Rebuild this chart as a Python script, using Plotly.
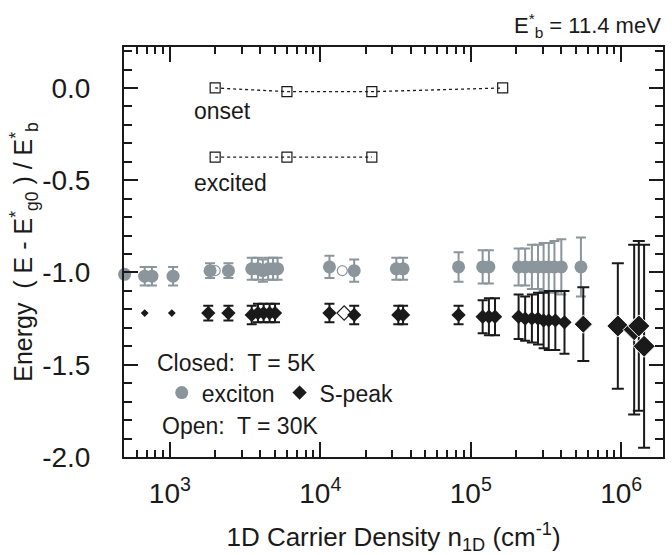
import plotly.graph_objects as go
import numpy as np

FONT = "Liberation Sans, Arial, sans-serif"
GRAY = "#8b959c"
BLACK = "#1a1a1a"

# ---------------- data ----------------
# onset / excited (open squares, dotted)
onset_x = [2000, 6000, 22000, 163000]
onset_y = [0.0, -0.02, -0.02, 0.0]
excited_x = [2000, 6000, 22000]
excited_y = [-0.375, -0.375, -0.375]

# exciton, closed (T = 5K)
exc_x = [500, 680, 760, 1050, 1850, 2450, 3500, 3850, 4150, 4500, 4850, 5200,
         11500, 16800, 32000, 35500, 83000, 1.2e5, 1.32e5, 2.08e5, 2.3e5,
         2.55e5, 2.8e5, 3.05e5, 3.3e5, 3.6e5, 4.0e5, 5.4e5]
exc_y = [-1.01, -1.02, -1.02, -1.02, -0.99, -0.99, -0.98, -0.98, -0.99, -0.98,
         -0.98, -0.98, -0.97, -0.99, -0.98, -0.98, -0.97, -0.97, -0.97, -0.97,
         -0.97, -0.97, -0.97, -0.97, -0.97, -0.97, -0.97, -0.97]
exc_err = [0, .05, .05, .05, .04, .04, .06, .06, .06, .06, .06, .06, .06, .06,
           .06, .06, .08, .09, .09, .10, .10, .12, .12, .13, .13, .14, .15, .16]

# exciton, open (T = 30K)
exc_open_x = [2000, 14000]
exc_open_y = [-0.99, -0.99]

# S-peak, closed (T = 5K)
sp_small_x = [680, 1030]
sp_small_y = [-1.22, -1.22]

sp_x = [1800, 2450, 3500, 3850, 4200, 4600, 5000, 11500, 16800, 33000, 35500,
        83000, 1.2e5, 1.32e5, 1.45e5, 2.08e5, 2.3e5, 2.55e5, 2.8e5, 3.05e5,
        3.3e5, 3.65e5, 4.2e5]
sp_y = [-1.22, -1.22, -1.23, -1.22, -1.22, -1.22, -1.22, -1.22, -1.23, -1.23,
        -1.23, -1.23, -1.24, -1.24, -1.24, -1.24, -1.25, -1.25, -1.25, -1.26,
        -1.26, -1.26, -1.27]
sp_err = [.04, .04, .05, .05, .05, .05, .05, .05, .05, .05, .05, .05, .09, .10,
          .10, .12, .12, .13, .14, .15, .16, .16, .17]

sp_big_x = [5.6e5, 9.5e5, 1.22e6, 1.31e6, 1.42e6]
sp_big_y = [-1.28, -1.29, -1.31, -1.29, -1.40]
sp_big_err = [.20, .34, .46, .46, .55]

# S-peak, open (T = 30K)
sp_open_x = [14400]
sp_open_y = [-1.22]

x_tickvals = [1e3, 1e4, 1e5, 1e6]
x_ticktext = ["10<sup>3</sup>", "10<sup>4</sup>", "10<sup>5</sup>", "10<sup>6</sup>"]
y_tickvals = [0.0, -0.5, -1.0, -1.5, -2.0]
y_ticktext = ["0.0", "-0.5", "-1.0", "-1.5", "-2.0"]

# ---------------- figure ----------------
fig = go.Figure()

fig.add_trace(go.Scatter(x=onset_x, y=onset_y, mode="lines+markers",
                         line=dict(color=BLACK, width=1.3, dash="dot"),
                         marker=dict(symbol="square-open", size=10, color=BLACK,
                                     line=dict(width=1.2)),
                         showlegend=False))
fig.add_trace(go.Scatter(x=excited_x, y=excited_y, mode="lines+markers",
                         line=dict(color=BLACK, width=1.3, dash="dot"),
                         marker=dict(symbol="square-open", size=10, color=BLACK,
                                     line=dict(width=1.2)),
                         showlegend=False))

fig.add_trace(go.Scatter(x=exc_x, y=exc_y, mode="markers", name="exciton",
                         marker=dict(symbol="circle", size=13, color=GRAY, opacity=1),
                         error_y=dict(type="data", array=exc_err, color=GRAY,
                                      thickness=2, width=5),
                         cliponaxis=False))
fig.add_trace(go.Scatter(x=exc_open_x, y=exc_open_y, mode="markers",
                         marker=dict(symbol="circle-open", size=10, color=GRAY,
                                     line=dict(width=1.2)),
                         showlegend=False))

fig.add_trace(go.Scatter(x=sp_small_x, y=sp_small_y, mode="markers",
                         marker=dict(symbol="diamond", size=6, color=BLACK),
                         showlegend=False))
fig.add_trace(go.Scatter(x=sp_x, y=sp_y, mode="markers", name="S-peak",
                         marker=dict(symbol="diamond", size=11, color=BLACK, opacity=1),
                         error_y=dict(type="data", array=sp_err, color=BLACK,
                                      thickness=2, width=5)))
fig.add_trace(go.Scatter(x=sp_big_x, y=sp_big_y, mode="markers",
                         marker=dict(symbol="diamond", size=[14, 17, 17, 17, 17],
                                     color=BLACK, opacity=1),
                         error_y=dict(type="data", array=sp_big_err, color=BLACK,
                                      thickness=2, width=6),
                         showlegend=False))
fig.add_trace(go.Scatter(x=sp_open_x, y=sp_open_y, mode="markers",
                         marker=dict(symbol="diamond-open", size=11, color=BLACK,
                                     line=dict(width=1.2)),
                         showlegend=False))

# minor ticks on the log axis
x_minor = [m * 10 ** d for d in range(2, 7) for m in range(2, 10)]

fig.update_xaxes(type="log", range=[2.695, 6.278],
                 tickvals=x_tickvals, ticktext=x_ticktext,
                 ticks="inside", ticklen=15, tickwidth=2, tickcolor=BLACK,
                 minor=dict(tickvals=x_minor, ticks="inside", ticklen=7,
                            tickwidth=2, tickcolor=BLACK, showgrid=False),
                 showline=True, linewidth=2, linecolor=BLACK, mirror="ticks",
                 showgrid=False, zeroline=False,
                 tickfont=dict(family=FONT, size=28, color=BLACK),
                 ticklabelstandoff=10,
                 title=dict(text="1D Carrier Density n<sub>1D</sub> (cm<sup>-1</sup>)",
                            font=dict(family=FONT, size=26, color=BLACK),
                            standoff=20))
fig.update_yaxes(range=[-2.0, 0.222],
                 tickvals=y_tickvals, ticktext=y_ticktext,
                 ticks="inside", ticklen=14, tickwidth=2, tickcolor=BLACK,
                 minor=dict(dtick=0.1, tick0=0, ticks="inside", ticklen=8,
                            tickwidth=2, tickcolor=BLACK, showgrid=False),
                 showline=True, linewidth=2, linecolor=BLACK, mirror="ticks",
                 showgrid=False, zeroline=False,
                 tickfont=dict(family=FONT, size=28, color=BLACK),
                 ticklabelstandoff=26,
                 title=dict(text="Energy  ( E - E<sup>*</sup><sub>g0</sub> ) / E<sup>*</sup><sub>b</sub>",
                            font=dict(family=FONT, size=25, color=BLACK),
                            standoff=2))

annots = [
    dict(text="E<sup>*</sup><sub>b</sub> = 11.4 meV", x=1.0, y=1.0, xanchor="right",
         yanchor="bottom", yshift=4, size=22),
    dict(text="onset", x=0.126, y=0.844, xanchor="left", yanchor="middle", size=23),
    dict(text="excited", x=0.126, y=0.668, xanchor="left", yanchor="middle", size=23),
    dict(text="Closed:  T = 5K", x=0.057, y=0.229, xanchor="left", yanchor="middle", size=23),
    dict(text="Open:  T = 30K", x=0.0665, y=0.076, xanchor="left", yanchor="middle", size=23),
]
for a in annots:
    fig.add_annotation(text=a["text"], x=a["x"], y=a["y"], xref="paper", yref="paper",
                       xanchor=a["xanchor"], yanchor=a["yanchor"],
                       yshift=a.get("yshift", 0), showarrow=False,
                       font=dict(family=FONT, size=a["size"], color=BLACK))

fig.update_layout(
    width=672, height=555,
    margin=dict(l=124, r=7, t=47, b=98),
    paper_bgcolor="white", plot_bgcolor="white",
    font=dict(family=FONT, color=BLACK),
    legend=dict(orientation="h", x=0.07, y=0.157, xanchor="left", yanchor="middle",
                bgcolor="rgba(0,0,0,0)", font=dict(family=FONT, size=23, color=BLACK),
                itemwidth=30, tracegroupgap=0),
)

fig.write_html("out.html")
